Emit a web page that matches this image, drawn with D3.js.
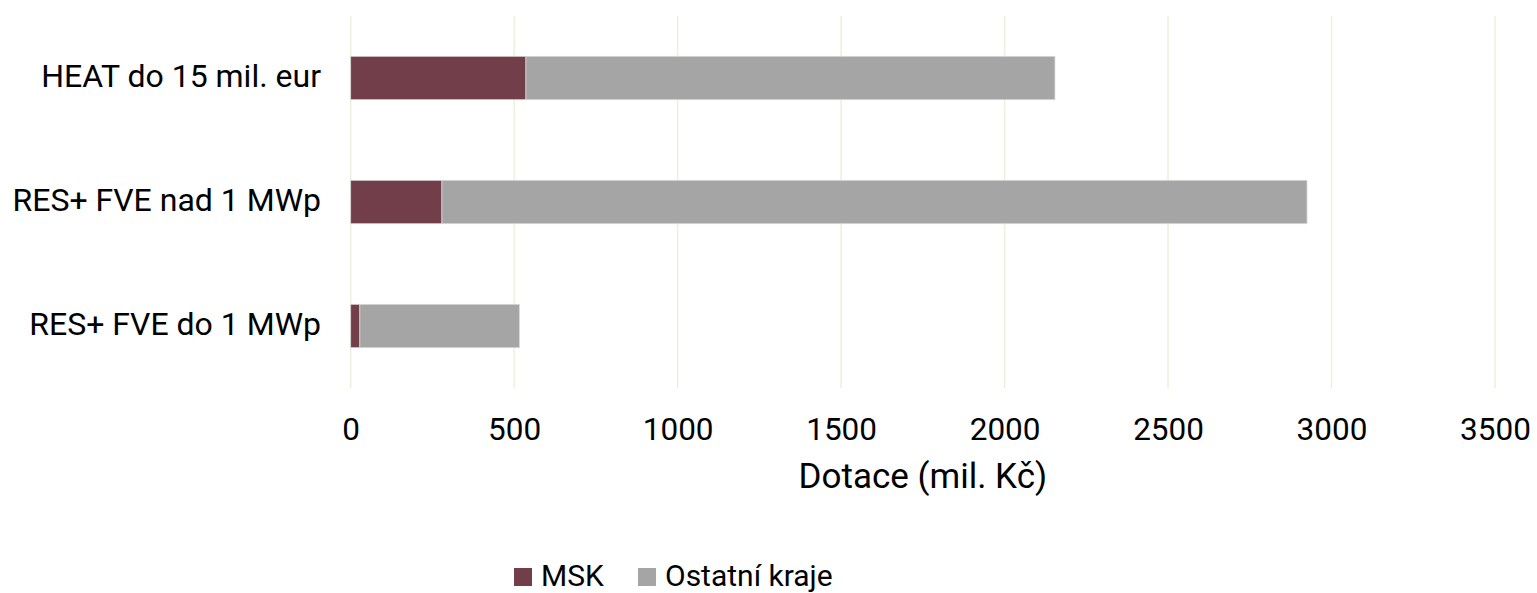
<!DOCTYPE html>
<html><head><meta charset="utf-8">
<script src="https://cdn.jsdelivr.net/npm/d3@7"></script>
<style>body{margin:0;background:#fff}svg{display:block;font-family:Roboto,sans-serif}</style>
</head><body>
<svg id="c" width="1537" height="593"></svg>
<script>
const categories = ["HEAT do 15 mil. eur", "RES+ FVE nad 1 MWp", "RES+ FVE do 1 MWp"];
const msk = [536, 279, 28];
const ostatni = [1618, 2646, 488];
const seriesNames = ["MSK", "Ostatní kraje"];
const colors = ["#723e4a", "#a5a5a5"];
const ticks = [0, 500, 1000, 1500, 2000, 2500, 3000, 3500];

const svg = d3.select("#c");
const x = d3.scaleLinear().domain([0, 3500]).range([350.7, 1495]);
const y = d3.scaleBand().domain(categories).range([16, 388]).paddingInner(0.65).paddingOuter(0.325);

// gridlines
svg.append("g").selectAll("line").data(ticks).join("line")
  .attr("x1", d => x(d)).attr("x2", d => x(d))
  .attr("y1", 16).attr("y2", 388)
  .attr("stroke", "#ebf1de").attr("stroke-width", 1.5);

const data = categories.map((c, i) => ({cat: c, MSK: msk[i], "Ostatní kraje": ostatni[i]}));
const stack = d3.stack().keys(seriesNames)(data);
svg.append("g").selectAll("g").data(stack).join("g")
  .attr("fill", (d, i) => colors[i])
  .selectAll("rect").data(d => d).join("rect")
  .attr("x", d => x(d[0])).attr("width", d => x(d[1]) - x(d[0]))
  .attr("y", d => y(d.data.cat)).attr("height", y.bandwidth())
  .attr("stroke", "#d9d9d9").attr("stroke-width", 0.75);

// x axis tick labels
const xAxis = d3.axisBottom(x).tickValues(ticks).tickFormat(d3.format("d")).tickSize(0).tickPadding(0);
const gx = svg.append("g").attr("transform", "translate(0,410)").call(xAxis);
gx.select(".domain").remove();
gx.selectAll("text").attr("font-size", 31.5).attr("fill", "#000").attr("font-family", "Roboto").attr("dy", 0).attr("y", 30);

// y axis labels
const yAxis = d3.axisLeft(y).tickSize(0).tickPadding(30);
const gy = svg.append("g").attr("transform", "translate(351,0)").call(yAxis);
gy.select(".domain").remove();
gy.selectAll("text").attr("font-size", 32).attr("fill", "#000").attr("font-family", "Roboto").attr("dy", "0.29em");

// axis title
svg.append("text").attr("x", x(1750)).attr("y", 488).attr("text-anchor", "middle")
  .attr("font-size", 35).attr("fill", "#000").text("Dotace (mil. Kč)");

// legend
const leg = svg.append("g");
const legX = [514, 638];
seriesNames.forEach((s, i) => {
  leg.append("rect").attr("x", legX[i]).attr("y", 568).attr("width", 18).attr("height", 18).attr("fill", colors[i]);
  leg.append("text").attr("x", legX[i] + 27).attr("y", 585.5).attr("font-size", 30).attr("fill", "#000").text(s);
});
</script>
</body></html>
